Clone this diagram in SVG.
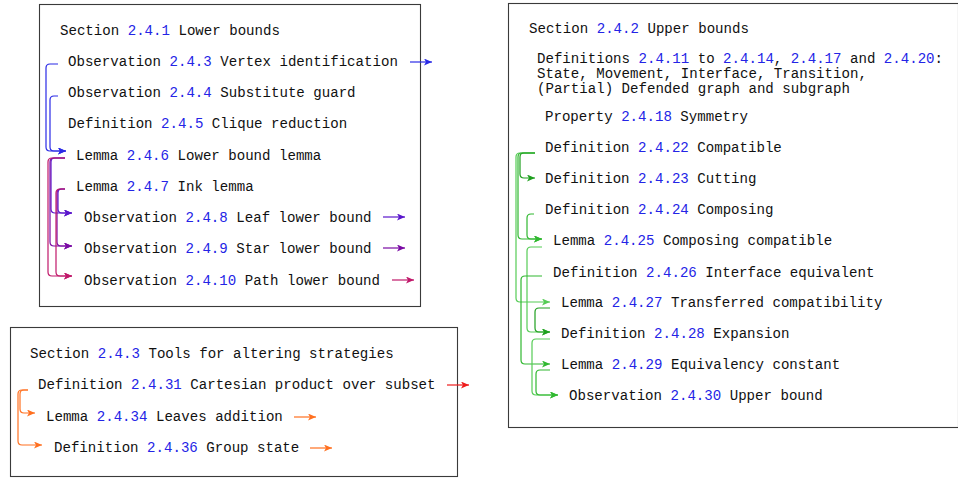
<svg xmlns="http://www.w3.org/2000/svg" width="958" height="480" viewBox="0 0 958 480">
<style>
text{font-family:"Liberation Mono","DejaVu Sans Mono",monospace;font-size:14.1px;fill:#111}
.n{fill:#2424e6}
.box{fill:#fff;stroke:#3a3a3a;stroke-width:1.1}
.e{fill:none;stroke-width:1.2}
.bl{stroke:#2a2ae6}.vi{stroke:#5a16cc}.pu{stroke:#7a0aa4}.ma{stroke:#c0186a}
.g1{stroke:#1f9f1f}.g2{stroke:#30b830}.g3{stroke:#55cc55}
.or{stroke:#ff7020}.rd{stroke:#ee1c1c}
</style>
<defs>
<marker id="abl" markerUnits="userSpaceOnUse" markerWidth="9" markerHeight="7" refX="8" refY="3.5" orient="auto"><path d="M0,0 L8,3.5 L0,7 L2,3.5 z" fill="#2a2ae6"/></marker>
<marker id="avi" markerUnits="userSpaceOnUse" markerWidth="9" markerHeight="7" refX="8" refY="3.5" orient="auto"><path d="M0,0 L8,3.5 L0,7 L2,3.5 z" fill="#5a16cc"/></marker>
<marker id="apu" markerUnits="userSpaceOnUse" markerWidth="9" markerHeight="7" refX="8" refY="3.5" orient="auto"><path d="M0,0 L8,3.5 L0,7 L2,3.5 z" fill="#7a0aa4"/></marker>
<marker id="ama" markerUnits="userSpaceOnUse" markerWidth="9" markerHeight="7" refX="8" refY="3.5" orient="auto"><path d="M0,0 L8,3.5 L0,7 L2,3.5 z" fill="#c0186a"/></marker>
<marker id="ag1" markerUnits="userSpaceOnUse" markerWidth="9" markerHeight="7" refX="8" refY="3.5" orient="auto"><path d="M0,0 L8,3.5 L0,7 L2,3.5 z" fill="#1f9f1f"/></marker>
<marker id="ag2" markerUnits="userSpaceOnUse" markerWidth="9" markerHeight="7" refX="8" refY="3.5" orient="auto"><path d="M0,0 L8,3.5 L0,7 L2,3.5 z" fill="#30b830"/></marker>
<marker id="ag3" markerUnits="userSpaceOnUse" markerWidth="9" markerHeight="7" refX="8" refY="3.5" orient="auto"><path d="M0,0 L8,3.5 L0,7 L2,3.5 z" fill="#55cc55"/></marker>
<marker id="aor" markerUnits="userSpaceOnUse" markerWidth="9" markerHeight="7" refX="8" refY="3.5" orient="auto"><path d="M0,0 L8,3.5 L0,7 L2,3.5 z" fill="#ff7020"/></marker>
<marker id="ard" markerUnits="userSpaceOnUse" markerWidth="9" markerHeight="7" refX="8" refY="3.5" orient="auto"><path d="M0,0 L8,3.5 L0,7 L2,3.5 z" fill="#ee1c1c"/></marker>
</defs>
<rect width="958" height="480" fill="#fff"/>

<g id="box-241"><rect class="box" x="39.5" y="4.5" width="381" height="302"/></g>
<g id="box-242"><rect class="box" x="508.5" y="3.5" width="450" height="424"/></g>
<g id="box-243"><rect class="box" x="10.5" y="327.5" width="447" height="149"/></g>

<g id="sec241"><text x="60" y="35">Section <tspan class="n">2.4.1</tspan> Lower bounds</text></g>
<g id="obs243"><text x="68" y="66">Observation <tspan class="n">2.4.3</tspan> Vertex identification</text></g>
<g id="obs244"><text x="68" y="97">Observation <tspan class="n">2.4.4</tspan> Substitute guard</text></g>
<g id="def245"><text x="68" y="128">Definition <tspan class="n">2.4.5</tspan> Clique reduction</text></g>
<g id="lem246"><text x="76" y="160">Lemma <tspan class="n">2.4.6</tspan> Lower bound lemma</text></g>
<g id="lem247"><text x="76" y="191">Lemma <tspan class="n">2.4.7</tspan> Ink lemma</text></g>
<g id="obs248"><text x="84" y="222">Observation <tspan class="n">2.4.8</tspan> Leaf lower bound</text></g>
<g id="obs249"><text x="84" y="253">Observation <tspan class="n">2.4.9</tspan> Star lower bound</text></g>
<g id="obs2410"><text x="84" y="285">Observation <tspan class="n">2.4.10</tspan> Path lower bound</text></g>

<g id="sec242"><text x="529" y="33">Section <tspan class="n">2.4.2</tspan> Upper bounds</text></g>
<g id="defs2411"><text x="537" y="63">Definitions <tspan class="n">2.4.11</tspan> to <tspan class="n">2.4.14</tspan>, <tspan class="n">2.4.17</tspan> and <tspan class="n">2.4.20</tspan>:</text><text x="537" y="78">State, Movement, Interface, Transition,</text><text x="537" y="93">(Partial) Defended graph and subgraph</text></g>
<g id="prop2418"><text x="545" y="121">Property <tspan class="n">2.4.18</tspan> Symmetry</text></g>
<g id="def2422"><text x="545" y="152">Definition <tspan class="n">2.4.22</tspan> Compatible</text></g>
<g id="def2423"><text x="545" y="183">Definition <tspan class="n">2.4.23</tspan> Cutting</text></g>
<g id="def2424"><text x="545" y="214">Definition <tspan class="n">2.4.24</tspan> Composing</text></g>
<g id="lem2425"><text x="553" y="245">Lemma <tspan class="n">2.4.25</tspan> Composing compatible</text></g>
<g id="def2426"><text x="553" y="277">Definition <tspan class="n">2.4.26</tspan> Interface equivalent</text></g>
<g id="lem2427"><text x="561" y="307">Lemma <tspan class="n">2.4.27</tspan> Transferred compatibility</text></g>
<g id="def2428"><text x="561" y="338">Definition <tspan class="n">2.4.28</tspan> Expansion</text></g>
<g id="lem2429"><text x="561" y="369">Lemma <tspan class="n">2.4.29</tspan> Equivalency constant</text></g>
<g id="obs2430"><text x="569" y="400">Observation <tspan class="n">2.4.30</tspan> Upper bound</text></g>

<g id="sec243"><text x="30" y="358">Section <tspan class="n">2.4.3</tspan> Tools for altering strategies</text></g>
<g id="def2431"><text x="38" y="389">Definition <tspan class="n">2.4.31</tspan> Cartesian product over subset</text></g>
<g id="lem2434"><text x="46" y="421">Lemma <tspan class="n">2.4.34</tspan> Leaves addition</text></g>
<g id="def2436"><text x="54" y="452">Definition <tspan class="n">2.4.36</tspan> Group state</text></g>

<g id="connectors">
<path class="e bl" marker-end="url(#abl)" d="M58 64 H50 Q46 64 46 68 V147 Q46 151 50 151 H66"/>
<path class="e bl" marker-end="url(#abl)" d="M58 96 H54 Q50 96 50 100 V147 Q50 151 54 151 H66"/>
<path class="e vi" marker-end="url(#avi)" d="M65 158 H55 Q51 158 51 162 V209 Q51 213 55 213 H72"/>
<path class="e pu" marker-end="url(#apu)" d="M65 158 H54 Q50 158 50 162 V242 Q50 246 54 246 H72"/>
<path class="e vi" marker-end="url(#avi)" d="M65 189 H62 Q58 189 58 193 V209 Q58 213 62 213 H72"/>
<path class="e pu" marker-end="url(#apu)" d="M65 189 H61 Q57 189 57 193 V242 Q57 246 61 246 H72"/>
<path class="e ma" marker-end="url(#ama)" d="M65 158 H52 Q48 158 48 162 V272 Q48 276 52 276 H72"/>
<path class="e ma" marker-end="url(#ama)" d="M65 189 H60 Q56 189 56 193 V272 Q56 276 60 276 H72"/>
<path class="e bl" marker-end="url(#abl)" d="M410 62 H432"/>
<path class="e vi" marker-end="url(#avi)" d="M383 217 H405"/>
<path class="e pu" marker-end="url(#apu)" d="M383 248 H405"/>
<path class="e ma" marker-end="url(#ama)" d="M392 280 H414"/>

<path class="e g3" marker-end="url(#ag3)" d="M535 153 H520 Q516 153 516 157 V298 Q516 302 520 302 H550"/>
<path class="e g2" marker-end="url(#ag2)" d="M535 153 H522 Q518 153 518 157 V235 Q518 239 522 239 H542"/>
<path class="e g1" marker-end="url(#ag1)" d="M535 153 H524 Q520 153 520 157 V174 Q520 178 524 178 H535"/>
<path class="e g2" marker-end="url(#ag2)" d="M534 214 H531 Q527 214 527 218 V235 Q527 239 531 239 H542"/>
<path class="e g3" marker-end="url(#ag3)" d="M542 247 H531 Q527 247 527 251 V328 Q527 332 531 332 H550"/>
<path class="e g2" marker-end="url(#ag2)" d="M542 276 H525 Q521 276 521 280 V360 Q521 364 525 364 H550"/>
<path class="e g1" marker-end="url(#ag1)" d="M550 308 H539 Q535 308 535 312 V328 Q535 332 539 332 H550"/>
<path class="e g3" marker-end="url(#ag3)" d="M550 339 H536 Q532 339 532 343 V391 Q532 395 536 395 H558"/>
<path class="e g2" marker-end="url(#ag2)" d="M550 370 H540 Q536 370 536 374 V391 Q536 395 540 395 H558"/>

<path class="e or" marker-end="url(#aor)" d="M28 390 H24 Q20 390 20 394 V409 Q20 413 24 413 H35"/>
<path class="e or" marker-end="url(#aor)" d="M28 390 H22 Q18 390 18 394 V441 Q18 445 22 445 H42"/>
<path class="e rd" marker-end="url(#ard)" d="M447 385 H469"/>
<path class="e or" marker-end="url(#aor)" d="M294 417 H316"/>
<path class="e or" marker-end="url(#aor)" d="M310 448 H332"/>
</g>
</svg>
